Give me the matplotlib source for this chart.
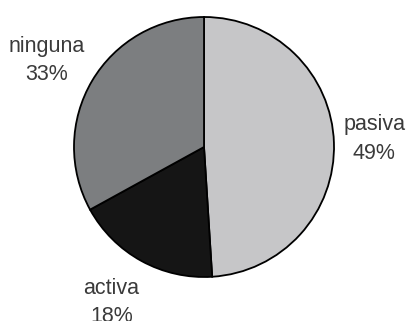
import numpy as np
import matplotlib.pyplot as plt

labels = ["pasiva", "activa", "ninguna"]
values = [49, 18, 33]
colors = ["#c6c6c8", "#151515", "#7c7e80"]
label_dist = [1.31, 1.39, 1.38]
label_shift = [0.9, -2.0, 1.9]  # degrees added to the wedge's middle angle

plt.rcParams['font.family'] = ['Liberation Sans', 'DejaVu Sans']

fig = plt.figure(figsize=(4.07, 3.21), dpi=100)
ax = fig.add_axes([0, 0, 1, 1])

cx, cy, r = 204, 174, 130
wedges, texts = ax.pie(values, colors=colors, startangle=90, counterclock=False,
                       center=(cx, cy), radius=r,
                       labels=[f"{l}\n{v}%" for l, v in zip(labels, values)],
                       wedgeprops=dict(edgecolor="black", linewidth=1.3),
                       textprops=dict(fontsize=15.5, color="#3a3a3a"))

# put each label centred at its own distance along the wedge's middle angle
for w, t, d, s in zip(wedges, texts, label_dist, label_shift):
    ang = np.deg2rad((w.theta1 + w.theta2) / 2 + s)
    t.set_position((cx + d * r * np.cos(ang), cy + d * r * np.sin(ang)))
    t.set_horizontalalignment("center")
    t.set_verticalalignment("center")
    t.set_multialignment("center")
    t.set_linespacing(1.45)

ax.set_xlim(0, 407)
ax.set_ylim(0, 321)
ax.set_aspect("equal")
ax.axis("off")

fig.savefig("out.png", dpi=100)
